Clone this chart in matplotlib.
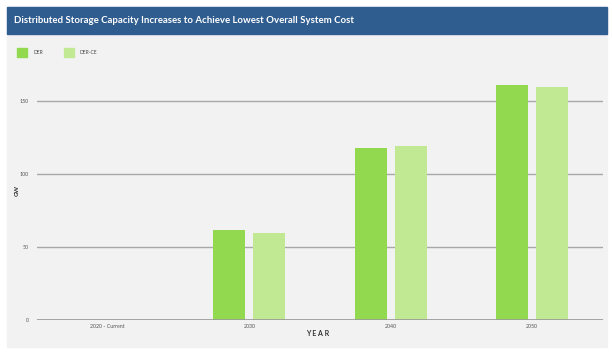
import matplotlib.pyplot as plt
import matplotlib.patches as mpatches
import numpy as np

plt.rcParams['font.family'] = ['Lato', 'DejaVu Sans']

years = ['2020 - Current', '2030', '2040', '2050']
der = [0, 61.5, 118, 161]
der_ce = [0, 59.5, 119, 160]
series_names = ['DER', 'DER-CE']
colors = ['#93d94f', '#c1e892']

W, H = 612, 360
fig = plt.figure(figsize=(W / 100, H / 100), dpi=100)
fig.patch.set_facecolor('white')

# grey panel and blue title bar
fig.patches.append(mpatches.Rectangle((7 / W, 1 - 347 / H), 600 / W, 340 / H,
                                      transform=fig.transFigure, color='#f2f2f2', zorder=-5))
fig.patches.append(mpatches.Rectangle((7 / W, 1 - 34 / H), 600 / W, 27 / H,
                                      transform=fig.transFigure, color='#2f5d8f', zorder=-4))
fig.text(14 / W, 1 - 20.5 / H, 'Distributed Storage Capacity Increases to Achieve Lowest Overall System Cost',
         color='white', fontsize=6.9, fontweight='bold', va='center', ha='left')

# legend
for i, name in enumerate(series_names):
    x0 = 17 + i * 47
    fig.patches.append(mpatches.Rectangle((x0 / W, 1 - 57 / H), 10 / W, 9 / H,
                                          transform=fig.transFigure, color=colors[i], zorder=-3))
    fig.text((x0 + 16) / W, 1 - 52.5 / H, name, fontsize=3.5, color='#444444', va='center')

ax = fig.add_axes([37 / W, 40 / H, 566 / W, 248 / H])
ax.set_facecolor('none')
ax.set_zorder(2)
x = np.arange(len(years))
bw = 0.225
ax.bar(x - 0.141, der, bw, color=colors[0], zorder=3)
ax.bar(x + 0.141, der_ce, bw, color=colors[1], zorder=3)

ax.set_xlim(-0.5, 3.5)
ax.set_ylim(0, 170)
ax.set_yticks([0, 50, 100, 150])
ax.set_xticks(x)
ax.set_xticklabels(years)
ax.grid(axis='y', color='#a8a8a8', linewidth=1, zorder=1)
ax.axhline(0, color='#999999', linewidth=1.2, zorder=4)
for s in ax.spines.values():
    s.set_visible(False)
ax.tick_params(length=0, labelsize=3.8, labelcolor='#555555')
ax.tick_params(axis='y', pad=6)
ax.tick_params(axis='x', pad=3)

fig.text(318 / W, 1 - 334 / H, 'Y E A R', fontsize=5, fontweight='bold', color='#333333',
         ha='center', va='center')
fig.text(17 / W, 1 - 190 / H, 'GW', fontsize=4.5, fontweight='bold', color='#333333',
         rotation=90, ha='center', va='center')

fig.savefig('out.png', dpi=100, facecolor='white')
